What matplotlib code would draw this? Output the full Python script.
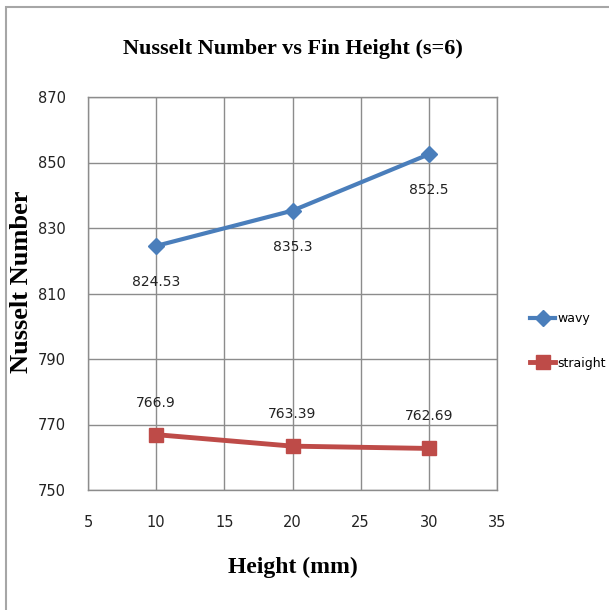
import matplotlib
matplotlib.use("Agg")
import matplotlib.pyplot as plt
from matplotlib.patches import Rectangle

height = [10, 20, 30]
wavy = [824.53, 835.3, 852.5]
straight = [766.9, 763.39, 762.69]
wavy_labels = ["824.53", "835.3", "852.5"]
straight_labels = ["766.9", "763.39", "762.69"]
xticks = [5, 10, 15, 20, 25, 30, 35]
yticks = [750, 770, 790, 810, 830, 850, 870]

sans = ["DejaVu Sans"]
serif = ["Liberation Serif", "DejaVu Serif"]

blue = "#4A7EBB"
red = "#BE4B48"
grid_col = "#8c8c8c"

fig = plt.figure(figsize=(6.09, 6.10), dpi=100)
ax = fig.add_axes([88 / 609, 1 - 490 / 610, 409 / 609, 393 / 610])

ax.plot(height, wavy, color=blue, lw=3, marker="D", ms=8, label="wavy")
ax.plot(height, straight, color=red, lw=3.5, marker="s", ms=10, label="straight")

for x, y, t in zip(height, wavy, wavy_labels):
    ax.annotate(t, (x, y), xytext=(0, -26), textcoords="offset points",
                ha="center", va="center", fontsize=10, family=sans, color="#222222")
for x, y, t in zip(height, straight, straight_labels):
    ax.annotate(t, (x, y), xytext=(0, 23), textcoords="offset points",
                ha="center", va="center", fontsize=10, family=sans, color="#222222")

ax.set_xlim(5, 35)
ax.set_ylim(750, 870)
ax.set_xticks(xticks)
ax.set_yticks(yticks)
ax.grid(True, color=grid_col, lw=1)
ax.set_axisbelow(True)
for s in ax.spines.values():
    s.set_color(grid_col)
    s.set_linewidth(1)
ax.tick_params(length=0, labelsize=10.5, labelcolor="#222222")
ax.tick_params(axis="x", pad=18)
ax.tick_params(axis="y", pad=16)
for lbl in ax.get_xticklabels() + ax.get_yticklabels():
    lbl.set_family(sans)

ax.set_title("Nusselt Number vs Fin Height (s=6)", fontsize=16, family=serif,
             fontweight="bold", pad=31)
ax.set_xlabel("Height (mm)", fontsize=17, family=serif, fontweight="bold", labelpad=19)
ax.set_ylabel("Nusselt Number", fontsize=19, family=serif, fontweight="bold")
ax.yaxis.set_label_coords((33 - 88) / 409, (490 - 282) / 393)

leg = ax.legend(loc="center left", bbox_to_anchor=(524 / 609, 1 - 341 / 610),
                bbox_transform=fig.transFigure, frameon=False, borderpad=0,
                handlelength=2.0, handletextpad=0.15, labelspacing=2.5,
                prop={"family": sans, "size": 9})

fig.add_artist(Rectangle((6 / 609, -0.05), 1.1, 1 - 7 / 610 + 0.05,
                         transform=fig.transFigure, fill=False,
                         edgecolor="#a6a6a6", lw=1.5, clip_on=False))

fig.savefig("out.png", dpi=100)
